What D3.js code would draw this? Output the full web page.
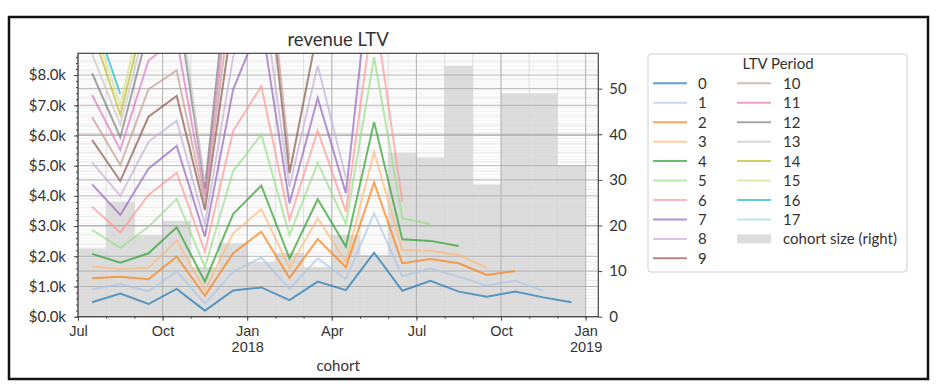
<!DOCTYPE html>
<html><head><meta charset="utf-8">
<script src="https://cdn.jsdelivr.net/npm/d3@7"></script>
<style>body{margin:0;background:#fff}svg{display:block;font-family:Lato,sans-serif}</style>
</head><body><svg id="c" width="940" height="391"></svg>
<script>
// ---------- data ----------
const cohorts = ["2017-07","2017-08","2017-09","2017-10","2017-11","2017-12","2018-01","2018-02","2018-03",
                 "2018-04","2018-05","2018-06","2018-07","2018-08","2018-09","2018-10","2018-11","2018-12"];
const cohortSize = [15, 25.2, 17.9, 21, 10.9, 16.1, 12, 14, 10.9, 17.9, 13.5, 35.9, 34.9, 55, 29, 49, 49, 33.2];
const periods = ["0","1","2","3","4","5","6","7","8","9","10","11","12","13","14","15","16","17"];
const ltv0  = [480, 770, 420, 920, 200, 870, 970, 550, 1160, 880, 2120, 860, 1190, 830, 660, 830, 640, 480];
const ltv1  = [910, 1080, 840, 1500, 430, 1490, 1960, 920, 1930, 1250, 3420, 1340, 1600, 1320, 1030, 1190, 860];
const ltv2  = [1270, 1320, 1240, 1990, 690, 2100, 2810, 1280, 2570, 1640, 4440, 1770, 1910, 1770, 1380, 1510];
const ltv3  = [1660, 1580, 1620, 2520, 880, 2760, 3560, 1620, 3260, 1820, 5450, 2210, 2180, 2040, 1620];
const ltv4  = [2080, 1790, 2100, 2960, 1160, 3400, 4340, 1930, 3890, 2320, 6450, 2560, 2510, 2340];
const ltv5  = [2870, 2280, 2980, 3900, 1640, 4820, 6030, 2700, 5090, 3070, 8590, 3260, 3060];
const ltv6  = [3640, 2790, 4030, 4760, 2150, 6140, 7630, 3200, 6160, 3480, 10300, 3810];
const ltv7  = [4380, 3370, 4900, 5650, 2650, 7520, 9800, 3750, 7240, 4090, 12600];
const ltv8  = [5110, 4000, 5790, 6490, 3050, 8600, 11000, 4300, 8320, 4600];
const ltv9  = [5850, 4490, 6620, 7310, 3530, 10000, 13300, 4750, 9500];
const ltv10 = [6600, 5020, 7530, 8150, 3750, 11000, 14000, 5200];
const ltv11 = [7340, 5520, 8480, 9200, 4000, 12000, 14800];
const ltv12 = [8060, 5940, 9500, 10500, 4250, 13000];
const ltv13 = [8700, 6350, 10000, 11000, 4450];
const ltv14 = [9500, 6680, 10500, 12000];
const ltv15 = [9800, 7000, 11000];
const ltv16 = [10100, 7370];
const ltv17 = [11000];
const ltvSeries = [ltv0,ltv1,ltv2,ltv3,ltv4,ltv5,ltv6,ltv7,ltv8,ltv9,ltv10,ltv11,ltv12,ltv13,ltv14,ltv15,ltv16,ltv17];
const colors = ["#1f77b4","#aec7e8","#ff7f0e","#ffbb78","#2ca02c","#98df8a","#ff9896","#9467bd","#c5b0d5",
                "#8c564b","#c49c94","#e377c2","#7f7f7f","#c7c7c7","#bcbd22","#dbdb8d","#17becf","#9edae5"];
const xMajorTicks = [0, 3, 6, 9, 12, 15, 18];
const xMajorLabels = ["Jul", "Oct", "Jan\n2018", "Apr", "Jul", "Oct", "Jan\n2019"];
const leftTicks = [0,1000,2000,3000,4000,5000,6000,7000,8000];
const rightTicks = [0,10,20,30,40,50];

// ---------- layout ----------
const svg = d3.select("#c");
const L = 78, R = 598.3, T = 53.3, B = 316.7;
const x = d3.scaleLinear().domain([0, 18.45]).range([L, R]);
const y = d3.scaleLinear().domain([0, 8720]).range([B, T]);
const y2 = d3.scaleLinear().domain([0, 57.75]).range([B, T]);
const txt = "#333";
const FS = 15;

// outer frame
svg.append("rect").attr("x",9).attr("y",17).attr("width",919).attr("height",362)
  .attr("fill","none").attr("stroke","#111").attr("stroke-width",2.5);

// title
svg.append("text").attr("x",(L+R)/2).attr("y",46).attr("text-anchor","middle")
  .attr("font-size",18.5).attr("fill",txt).text("revenue LTV");

const grid = svg.append("g");
// minor grids
d3.range(0, 8720, 100).forEach(v => grid.append("line").attr("x1",L).attr("x2",R).attr("y1",y(v)).attr("y2",y(v))
  .attr("stroke","#efefef").attr("stroke-width",0.8));
d3.range(0, 57, 2).forEach(v => grid.append("line").attr("x1",L).attr("x2",R).attr("y1",y2(v)).attr("y2",y2(v))
  .attr("stroke","#e8e8e8").attr("stroke-width",0.8));
d3.range(0, 19).forEach(m => grid.append("line").attr("x1",x(m)).attr("x2",x(m)).attr("y1",T).attr("y2",B)
  .attr("stroke","#dedede").attr("stroke-width",1));

// bars (right axis)
svg.append("g").selectAll("rect").data(cohortSize).join("rect")
  .attr("x",(d,i)=>x(i)).attr("width",(d,i)=>x(i+1)-x(i))
  .attr("y",d=>y2(d)).attr("height",d=>B-y2(d))
  .attr("fill","#d4d4d4").attr("opacity",0.8);

// major grids
const grid2 = svg.append("g");
leftTicks.forEach(v => grid2.append("line").attr("x1",L).attr("x2",R).attr("y1",y(v)).attr("y2",y(v))
  .attr("stroke","#aaaaaa").attr("stroke-opacity",0.8).attr("stroke-width",1));
rightTicks.forEach(v => grid2.append("line").attr("x1",L).attr("x2",R).attr("y1",y2(v)).attr("y2",y2(v))
  .attr("stroke","#aaaaaa").attr("stroke-opacity",0.8).attr("stroke-width",1));
xMajorTicks.forEach(m => grid2.append("line").attr("x1",x(m)).attr("x2",x(m)).attr("y1",T).attr("y2",B)
  .attr("stroke","#aaaaaa").attr("stroke-opacity",0.8).attr("stroke-width",1));

// lines
svg.append("clipPath").attr("id","clip").append("rect").attr("x",L).attr("y",T).attr("width",R-L).attr("height",B-T);
const line = d3.line().x((d,i)=>x(i+0.5)).y(d=>y(d));
const lg = svg.append("g").attr("clip-path","url(#clip)");
ltvSeries.forEach((s,k) => {
  lg.append("path").datum(s).attr("d",line).attr("fill","none")
    .attr("stroke",colors[k]).attr("stroke-opacity",0.7).attr("stroke-width",2);
});

// spines
svg.append("rect").attr("x",L).attr("y",T).attr("width",R-L).attr("height",B-T)
  .attr("fill","none").attr("stroke","#444").attr("stroke-width",1.2);

// left axis
const ya = svg.append("g").attr("transform",`translate(${L},0)`)
  .call(d3.axisLeft(y).tickValues(leftTicks).tickSize(4).tickPadding(8).tickFormat(v => "$" + (v/1000).toFixed(1) + "k"));
ya.select(".domain").remove();
ya.selectAll("text").attr("font-size",FS).attr("fill",txt).attr("font-family","Lato");
ya.selectAll("line").attr("stroke","#444");
const yam = svg.append("g").attr("transform",`translate(${L},0)`)
  .call(d3.axisLeft(y).tickValues(d3.range(0,8720,200)).tickSize(2).tickFormat(""));
yam.select(".domain").remove(); yam.selectAll("line").attr("stroke","#444");

// right axis
const ra = svg.append("g").attr("transform",`translate(${R},0)`)
  .call(d3.axisRight(y2).tickValues(rightTicks).tickSize(4).tickPadding(7));
ra.select(".domain").remove();
ra.selectAll("text").attr("font-size",FS).attr("fill",txt).attr("font-family","Lato");
ra.selectAll("line").attr("stroke","#444");

// x axis
const xa = svg.append("g").attr("transform",`translate(0,${B})`)
  .call(d3.axisBottom(x).tickValues(d3.range(0,19)).tickSize(2).tickFormat(""));
xa.select(".domain").remove(); xa.selectAll("line").attr("stroke","#444");
const xa2 = svg.append("g").attr("transform",`translate(0,${B})`)
  .call(d3.axisBottom(x).tickValues(xMajorTicks).tickSize(4).tickPadding(5).tickFormat((d,i)=>""));
xa2.select(".domain").remove(); xa2.selectAll("line").attr("stroke","#444");
xa2.selectAll(".tick").each(function(d,i){
  const parts = xMajorLabels[i].split("\n");
  parts.forEach((p,j)=> d3.select(this).append("text").attr("fill",txt).attr("font-size",14.5)
    .attr("text-anchor","middle").attr("x",0).attr("y",19 + j*16.5).text(p));
});
svg.append("text").attr("x",(L+R)/2).attr("y",371).attr("text-anchor","middle")
  .attr("font-size",FS).attr("fill",txt).text("cohort");

// legend
const lgd = svg.append("g");
lgd.append("rect").attr("x",648).attr("y",54).attr("width",259).attr("height",218).attr("rx",3)
  .attr("fill","#fff").attr("stroke","#d0d0d0");
lgd.append("text").attr("x",778).attr("y",69).attr("text-anchor","middle").attr("font-size",FS).attr("fill",txt).text("LTV Period");
periods.forEach((p,k)=>{
  const col = k < 10 ? 0 : 1, row = k < 10 ? k : k - 10;
  const cy = 83.3 + row*19.45;
  const hx = col === 0 ? 653 : 737, tx = col === 0 ? 698 : 783;
  lgd.append("line").attr("x1",hx).attr("x2",hx+34).attr("y1",cy).attr("y2",cy)
    .attr("stroke",colors[k]).attr("stroke-opacity",0.7).attr("stroke-width",2);
  lgd.append("text").attr("x",tx).attr("y",cy+5.5).attr("font-size",FS).attr("fill",txt).text(p);
});
{
  const cy = 83.3 + 8*19.45;
  lgd.append("rect").attr("x",737).attr("y",cy-4.5).attr("width",34).attr("height",9).attr("fill","#d4d4d4").attr("opacity",0.8);
  lgd.append("text").attr("x",783).attr("y",cy+5.5).attr("font-size",FS).attr("fill",txt).text("cohort size (right)");
}
</script></body></html>
